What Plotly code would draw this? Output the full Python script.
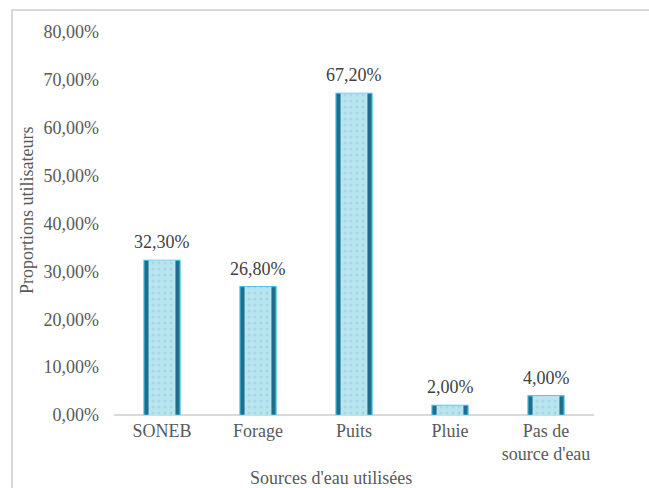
import plotly.graph_objects as go

# Water sources used and share of users
sources = ["SONEB", "Forage", "Puits", "Pluie", "Pas de<br>source d'eau"]
shares = [0.323, 0.268, 0.672, 0.02, 0.04]
y_ticks = [0, 0.1, 0.2, 0.3, 0.4, 0.5, 0.6, 0.7, 0.8]

FONT = "Times New Roman"
SIZE = 18

fig = go.Figure()

# outer bevelled frame of each bar
fig.add_trace(go.Bar(
    x=sources, y=shares, width=0.375,
    marker=dict(color="#1d6f8e", line=dict(color="#3ab9e2", width=1.2)),
    hoverinfo="skip", showlegend=False,
))
# light textured face of each bar
fig.add_trace(go.Bar(
    x=sources, y=shares, width=0.28,
    marker=dict(color="#b8e5ef", line=dict(width=0),
                pattern=dict(shape=".", fgcolor="#8fcadb", bgcolor="#b8e5ef",
                             size=6, solidity=0.2)),
    showlegend=False, hoverinfo="skip",
))

fig.update_layout(
    width=649, height=488,
    margin=dict(l=114, r=55, t=32, b=73),
    barmode="overlay",
    separators=", ",
    paper_bgcolor="white", plot_bgcolor="white",
    xaxis=dict(showgrid=False, showline=False, zeroline=False,
               tickfont=dict(family=FONT, size=SIZE, color="#595959"),
               ticks="", ticklabelstandoff=3),
    yaxis=dict(range=[0, 0.8], tickvals=y_ticks, tickformat=".2%",
               showgrid=False, zeroline=True, zerolinecolor="#d9d9d9",
               zerolinewidth=1.5, showline=False, ticks="",
               ticklabelstandoff=14,
               tickfont=dict(family=FONT, size=SIZE, color="#595959")),
    shapes=[dict(type="rect", xref="paper", yref="paper",
                 x0=(12 - 114) / 480, x1=(700 - 114) / 480,
                 y0=(415 - 560) / 383, y1=(415 - 10) / 383,
                 line=dict(color="#d9d9d9", width=2), layer="below")],
)

# axis titles
fig.add_annotation(text="Proportions utilisateurs", textangle=-90, xref="paper", yref="paper",
                   x=(27 - 114) / 480, y=(415 - 210) / 383, showarrow=False,
                   font=dict(family=FONT, size=SIZE, color="#595959"),
                   xanchor="center", yanchor="middle")
fig.add_annotation(text="Sources d'eau utilisées", xref="paper", yref="paper",
                   x=(331 - 114) / 480, y=(415 - 478) / 383, showarrow=False,
                   font=dict(family=FONT, size=SIZE, color="#595959"),
                   xanchor="center", yanchor="middle")

# value labels above each bar
for s, v in zip(sources, shares):
    fig.add_annotation(
        x=s, y=v, text=f"{v * 100:.2f}%".replace(".", ","),
        showarrow=False, yanchor="bottom", yshift=6,
        font=dict(family=FONT, size=SIZE, color="#404040"),
    )

fig.write_html("out.html")
